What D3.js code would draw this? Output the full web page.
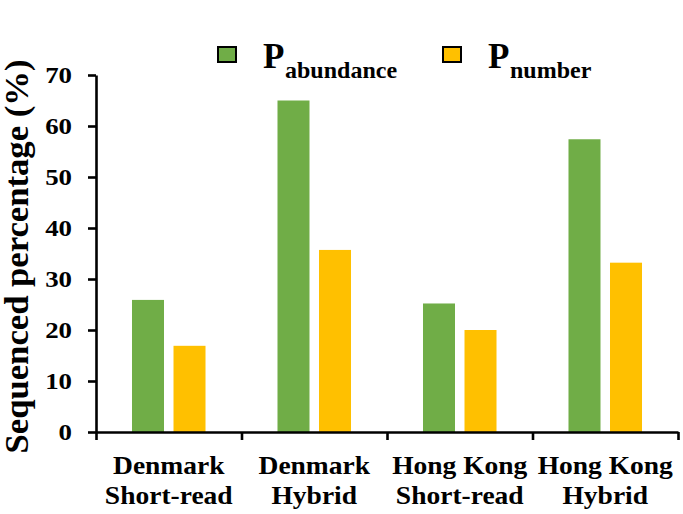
<!DOCTYPE html>
<html>
<head>
<meta charset="utf-8">
<script src="https://cdn.jsdelivr.net/npm/d3@7"></script>
<style>
  html, body { margin: 0; padding: 0; background: #fff; }
  svg { display: block; }
  text { font-family: "Liberation Serif", "Times New Roman", serif; font-weight: bold; fill: #000; }
</style>
</head>
<body>
<svg id="chart"></svg>
<script>
// data
const categories = ['Denmark|Short-read', 'Denmark|Hybrid', 'Hong Kong|Short-read', 'Hong Kong|Hybrid']
const seriesKeys = ['abundance', 'number']
const pAbundance = [25.9, 65.0, 25.2, 57.4]
const pNumber = [16.9, 35.7, 20.0, 33.2]
const yTicks = [0, 10, 20, 30, 40, 50, 60, 70]
const colors = ['#70AD47', '#FFC000']

const width = 683, height = 514
const margin = { top: 75, right: 5, bottom: 82, left: 96 }

const svg = d3.select('#chart')
  .attr('width', width)
  .attr('height', height)

const x0 = d3.scaleBand()
  .domain(categories)
  .range([margin.left, width - margin.right])

const x1 = d3.scaleBand()
  .domain(seriesKeys)
  .range([0, x0.bandwidth()])
  .paddingInner(0.229)
  .paddingOuter(0.867)

const y = d3.scaleLinear()
  .domain([0, 70])
  .range([height - margin.bottom, margin.top])

const seriesValues = { abundance: pAbundance, number: pNumber }
const color = d3.scaleOrdinal().domain(seriesKeys).range(colors)

// bars
const groups = svg.append('g')
  .selectAll('g')
  .data(categories)
  .join('g')
    .attr('transform', d => `translate(${x0(d)},0)`)

groups.selectAll('rect')
  .data((d, i) => seriesKeys.map(k => ({ key: k, value: seriesValues[k][i] })))
  .join('rect')
    .attr('x', d => x1(d.key))
    .attr('width', x1.bandwidth())
    .attr('y', d => y(d.value))
    .attr('height', d => y(0) - y(d.value))
    .attr('fill', d => color(d.key))

// y axis
const yAxis = svg.append('g')
  .attr('transform', `translate(${margin.left},0)`)
  .call(d3.axisLeft(y).tickValues(yTicks).tickSize(8).tickSizeOuter(0))

yAxis.selectAll('path, line').attr('stroke', '#000').attr('stroke-width', 2.6)
yAxis.selectAll('text')
  .attr('x', -24 / 1.12)
  .attr('transform', 'scale(1.12,1)')
  .style('font-size', '24px')
  .style('font-family', '"Liberation Serif", "Times New Roman", serif')
  .style('font-weight', 'bold')
  .attr('fill', '#000')

// x axis: ticks between categories
const xEdges = d3.scaleLinear()
  .domain([0, categories.length])
  .range([margin.left, width - margin.right])

const xAxis = svg.append('g')
  .attr('transform', `translate(0,${y(0)})`)
  .call(d3.axisBottom(xEdges).tickValues(d3.range(categories.length + 1)).tickFormat('').tickSize(8).tickSizeOuter(0))

xAxis.selectAll('path, line').attr('stroke', '#000').attr('stroke-width', 2.6)

// category labels
const catLabels = svg.append('g')
  .selectAll('text')
  .data(categories)
  .join('text')
    .attr('text-anchor', 'middle')
    .attr('transform', d => `translate(${x0(d) + x0.bandwidth() / 2},0) scale(1.1,1)`)
    .style('font-size', '25px')

catLabels.selectAll('tspan')
  .data(d => d.split('|'))
  .join('tspan')
    .attr('x', 0)
    .attr('y', (d, i) => 474 + i * 30)
    .text(d => d)

// y title
svg.append('text')
  .attr('transform', `translate(28,${(y(0) + y(70)) / 2 + 3}) rotate(-90) scale(1.05,1)`)
  .attr('text-anchor', 'middle')
  .style('font-size', '33px')
  .text('Sequenced percentage (%)')

// legend
const legendX = [217, 442]
const legend = svg.append('g')
  .selectAll('g')
  .data(seriesKeys)
  .join('g')
    .attr('transform', (d, i) => `translate(${legendX[i]},0)`)

legend.append('rect')
  .attr('x', 1)
  .attr('y', 47)
  .attr('width', 18)
  .attr('height', 15)
  .attr('fill', d => color(d))
  .attr('stroke', '#000')
  .attr('stroke-width', 2)

const legText = legend.append('text')
  .attr('x', 46)
  .attr('y', 68)

legText.append('tspan')
  .style('font-size', '35px')
  .text('P')

legText.append('tspan')
  .attr('x', 68)
  .attr('y', 78)
  .style('font-size', '24px')
  .text(d => d)
</script>
</body>
</html>
